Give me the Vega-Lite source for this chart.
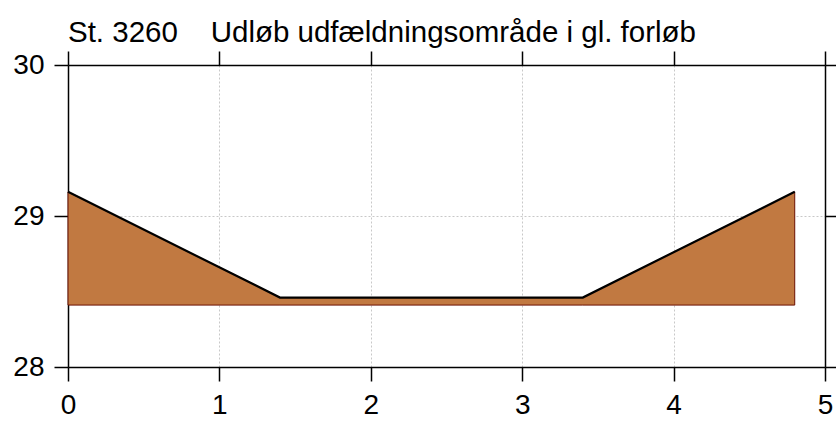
{
  "$schema": "https://vega.github.io/schema/vega-lite/v6.json",
  "width": 757,
  "height": 302,
  "autosize": "none",
  "padding": {"left": 68, "top": 65, "right": 11, "bottom": 57},
  "background": "white",
  "title": {
    "text": "St. 3260\u00a0\u00a0\u00a0\u00a0Udløb udfældningsområde i gl. forløb",
    "anchor": "start",
    "frame": "group",
    "orient": "top",
    "baseline": "bottom",
    "offset": -27,
    "dx": 0,
    "font": "Liberation Sans",
    "fontSize": 29.5,
    "fontWeight": "normal",
    "color": "black"
  },
  "config": {
    "view": {"stroke": null},
    "axis": {
      "domainColor": "black",
      "domainWidth": 1.5,
      "tickColor": "black",
      "tickWidth": 1.5,
      "tickSize": 14,
      "labelFont": "Liberation Sans",
      "labelFontSize": 28,
      "labelColor": "black",
      "labelOverlap": false,
      "gridColor": "#c8c8c8",
      "gridDash": [2, 2],
      "gridWidth": 1,
      "title": null
    }
  },
  "data": {
    "values": [
      {"dist": 0.0, "top": 29.16, "base": 28.41},
      {"dist": 1.4, "top": 28.46, "base": 28.41},
      {"dist": 3.4, "top": 28.46, "base": 28.41},
      {"dist": 4.8, "top": 29.16, "base": 28.41}
    ]
  },
  "layer": [
    {
      "mark": {"type": "area", "color": "#C17941", "stroke": "#6b1000", "strokeWidth": 1, "opacity": 1, "fillOpacity": 1},
      "encoding": {
        "x": {"field": "dist", "type": "quantitative",
              "scale": {"domain": [0, 5], "nice": false, "zero": false},
              "axis": {"orient": "bottom", "values": [0, 1, 2, 3, 4, 5], "format": ".0f", "tickCount": 6, "grid": true, "labelPadding": 10, "labelFlush": false}},
        "y": {"field": "top", "type": "quantitative",
              "scale": {"domain": [28, 30], "nice": false, "zero": false},
              "axis": {"orient": "left", "values": [28, 29, 30], "format": ".0f", "tickCount": 3, "grid": true, "labelPadding": 10, "labelFlush": false}},
        "y2": {"field": "base"}
      }
    },
    {
      "mark": {"type": "line", "color": "black", "strokeWidth": 2.2},
      "encoding": {
        "x": {"field": "dist", "type": "quantitative",
              "scale": {"domain": [0, 5], "nice": false, "zero": false},
              "axis": {"orient": "top", "values": [0, 1, 2, 3, 4, 5], "tickCount": 6, "grid": false, "labels": false}},
        "y": {"field": "top", "type": "quantitative",
              "scale": {"domain": [28, 30], "nice": false, "zero": false},
              "axis": {"orient": "right", "values": [28, 29, 30], "tickCount": 3, "grid": false, "labels": false}}
      }
    }
  ],
  "resolve": {"axis": {"x": "independent", "y": "independent"}}
}
